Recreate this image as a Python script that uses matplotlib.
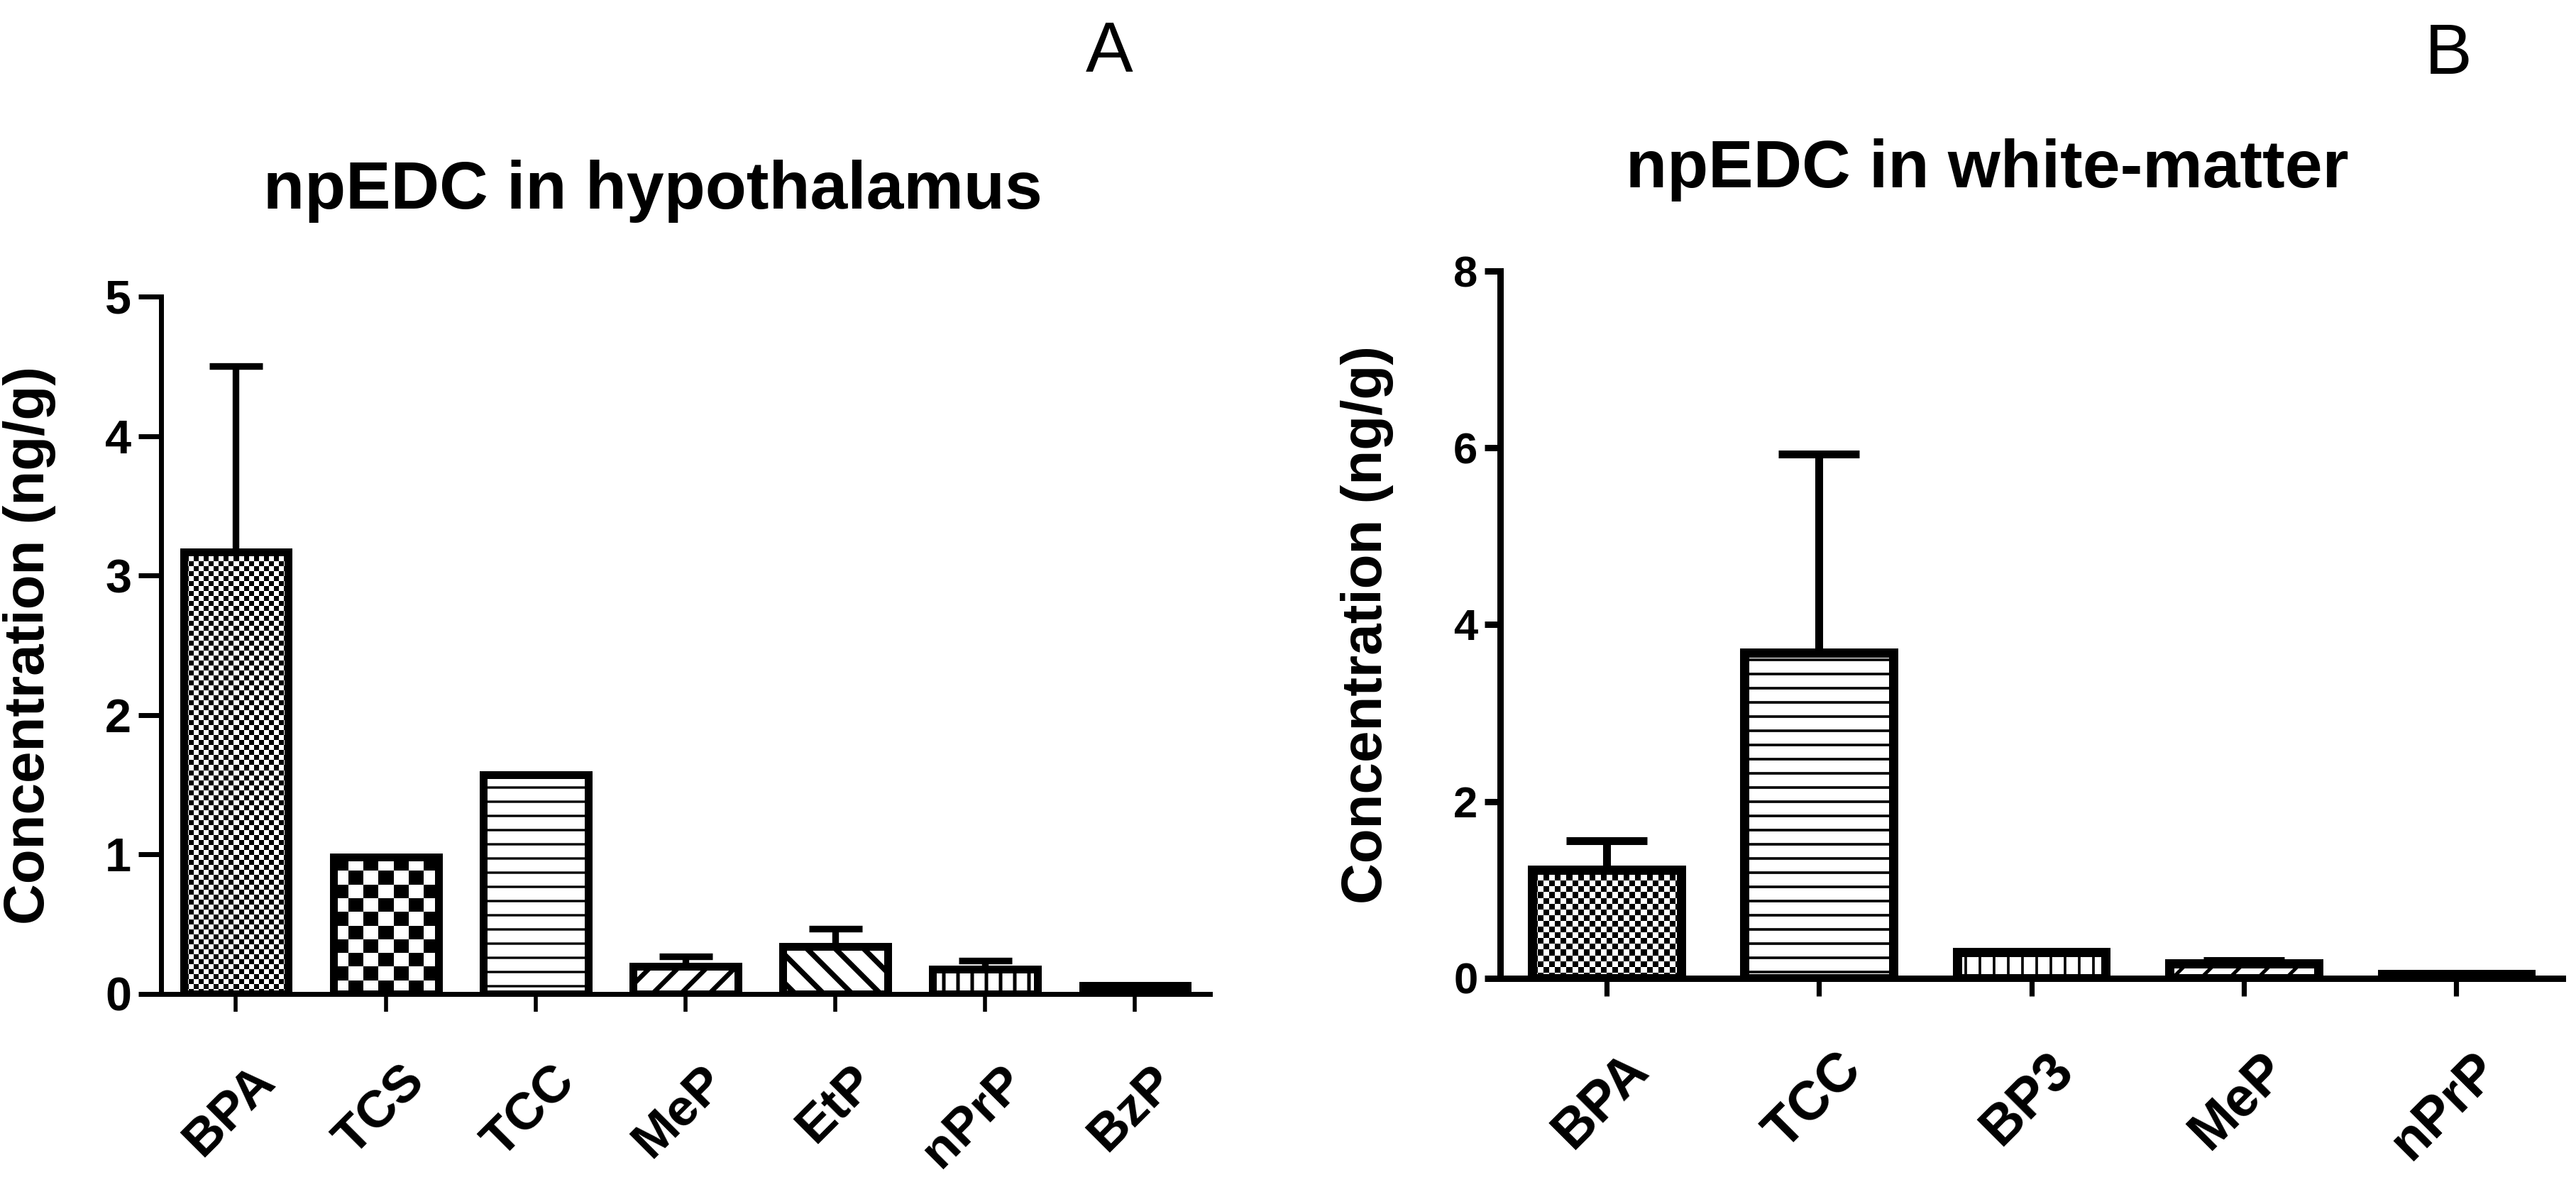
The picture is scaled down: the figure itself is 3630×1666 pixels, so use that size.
import numpy as np
import matplotlib
matplotlib.use("Agg")
import matplotlib.pyplot as plt
from matplotlib.transforms import ScaledTranslation

# ---------------- data ----------------
cats_a = ["BPA", "TCS", "TCC", "MeP", "EtP", "nPrP", "BzP"]
vals_a = [3.17, 0.98, 1.57, 0.20, 0.34, 0.18, 0.06]
errs_a = [1.33, 0.0, 0.0, 0.07, 0.13, 0.06, 0.0]
title_a = "npEDC in hypothalamus"
yticks_a = [0, 1, 2, 3, 4, 5]

cats_b = ["BPA", "TCC", "BP3", "MeP", "nPrP"]
vals_b = [1.23, 3.68, 0.30, 0.17, 0.05]
errs_b = [0.33, 2.25, 0.0, 0.03, 0.0]
title_b = "npEDC in white-matter"
yticks_b = [0, 2, 4, 6, 8]

ylabel = "Concentration (ng/g)"

# fill styles per bar: ('check', cell_px) or ('hatch', pattern, hatch_lw) or ('solid',)
styles_a = [("check", 7), ("check", 20), ("hatch", "-", 2.0), ("hatch", "/", 4.0),
            ("hatch", "\\", 4.5), ("hatch", "|", 3.0), ("solid",)]
styles_b = [("check", 8), ("hatch", "-", 2.2), ("hatch", "|", 2.2), ("hatch", "/", 3.0),
            ("solid",)]

plt.rcParams["font.family"] = ["Liberation Sans", "DejaVu Sans"]

DPI = 120
W, H = 3630, 1666
fig = plt.figure(figsize=(W / DPI, H / DPI), dpi=DPI)


def panel(rect, cats, vals, errs, styles, yticks, ymax, edge_lw, spine_lw,
          ytl_size, ytick_len, capsize, xtl_size, lab_dx, lab_pad):
    ax = fig.add_axes(rect)
    x = np.arange(len(cats))
    ax.set_xlim(-0.5, len(cats) - 0.5)
    ax.set_ylim(0, ymax)

    bars = ax.bar(x, vals, width=0.7, color="white", edgecolor="black",
                  linewidth=0, zorder=2)
    for p, st in zip(bars.patches, styles):
        if st[0] == "hatch":
            p.set_hatch(st[1])
            if hasattr(p, "set_hatch_linewidth"):
                p.set_hatch_linewidth(st[2])
        elif st[0] == "solid":
            p.set_facecolor("black")
        elif st[0] == "check":
            cell = st[1]
            x0, y0 = p.get_x(), p.get_y()
            w, h = p.get_width(), p.get_height()
            p0 = ax.transData.transform((x0, y0))
            p1 = ax.transData.transform((x0 + w, y0 + h))
            nx = max(1, int(round((p1[0] - p0[0]) / cell)))
            ny = max(1, int(round((p1[1] - p0[1]) / cell)))
            arr = np.add.outer(np.arange(ny), np.arange(nx)) % 2
            im = ax.imshow(arr, cmap="gray_r", vmin=0, vmax=1,
                           extent=(x0, x0 + w, y0, y0 + h), origin="lower",
                           interpolation="nearest", aspect="auto", zorder=2.2)
            im.set_clip_path(p)

    xe = [xi for xi, e in zip(x, errs) if e > 0]
    ve = [v for v, e in zip(vals, errs) if e > 0]
    ee = [e for e in errs if e > 0]
    ax.errorbar(xe, ve, yerr=[np.zeros(len(ee)), ee], fmt="none", ecolor="black",
                elinewidth=edge_lw * 0.85, capsize=capsize, capthick=edge_lw * 0.85,
                zorder=2.6)

    ax.bar(x, vals, width=0.7, fill=False, edgecolor="black", linewidth=edge_lw,
           joinstyle="miter", zorder=3)

    ax.set_xlim(-0.5, len(cats) - 0.5)
    ax.set_ylim(0, ymax)

    for s in ["top", "right"]:
        ax.spines[s].set_visible(False)
    for s in ["left", "bottom"]:
        ax.spines[s].set_linewidth(spine_lw)
    ax.spines["bottom"].set_zorder(3.5)

    ax.set_yticks(yticks)
    ax.set_yticklabels([str(t) for t in yticks], fontsize=ytl_size, fontweight="bold")
    ax.tick_params(axis="y", direction="out", length=ytick_len, width=spine_lw, pad=6)
    ax.set_xticks(x)
    ax.set_xticklabels(cats, fontsize=xtl_size, fontweight="bold", rotation=45,
                       ha="right", va="top", rotation_mode="anchor")
    ax.tick_params(axis="x", direction="out", length=15, width=spine_lw * 0.8,
                   pad=lab_pad)
    off = ScaledTranslation(lab_dx / DPI, 0, fig.dpi_scale_trans)
    for lbl in ax.get_xticklabels():
        lbl.set_transform(lbl.get_transform() + off)
    ax.set_ylabel(ylabel, fontsize=48, fontweight="bold")
    ax.yaxis.set_label_coords(-0.10, 0.5)
    ax.set_facecolor("none")
    return ax


axA = panel([0.0625, 0.1591, 0.4072, 0.5900], cats_a, vals_a, errs_a, styles_a,
            yticks_a, 5, 6.6, 4.2, 40, 19, 22.5, 44, 20, 38)
axB = panel([0.5824, 0.1723, 0.4124, 0.5984], cats_b, vals_b, errs_b, styles_b,
            yticks_b, 8, 7.8, 5.4, 37, 13, 34, 46, 22, 40)

fig.text(920 / W, 1 - 270 / H, title_a, fontsize=57, fontweight="bold",
         ha="center", va="center")
fig.text(2800 / W, 1 - 240 / H, title_b, fontsize=57, fontweight="bold",
         ha="center", va="center")
fig.text(1563 / W, 1 - 75 / H, "A", fontsize=60, ha="center", va="center")
fig.text(3450 / W, 1 - 78 / H, "B", fontsize=60, ha="center", va="center")

fig.savefig("out.png", dpi=DPI, facecolor="white")
